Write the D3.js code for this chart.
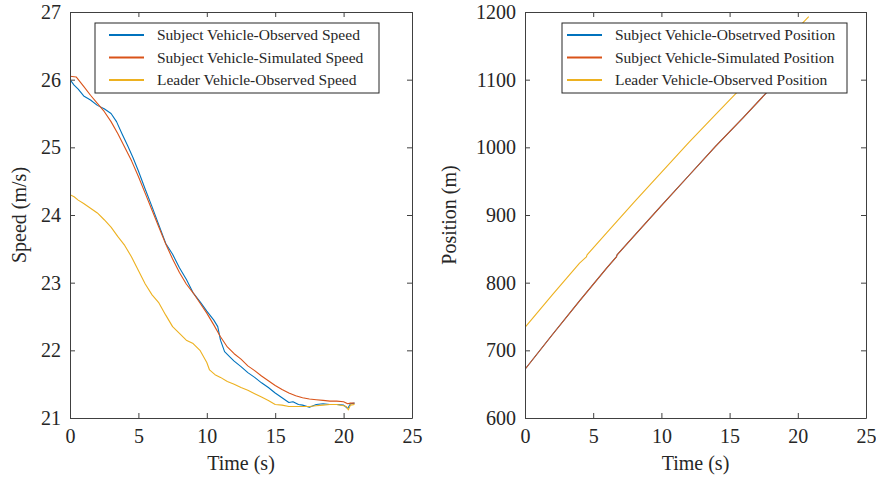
<!DOCTYPE html>
<html>
<head>
<meta charset="utf-8">
<script src="https://cdn.jsdelivr.net/npm/d3@7"></script>
<style>
  body { margin: 0; background: #fff; }
  svg { display: block; font-family: "Liberation Serif", "DejaVu Serif", serif; }
  .axis path, .axis line { stroke: #404040; }
  .axis text { fill: #262626; font-size: 20px; font-family: "Liberation Serif", "DejaVu Serif", serif; }
</style>
</head>
<body>
<div id="chart"></div>
<script>
// speed panel
const tSubjObsSpeed = [0, 0.3, 0.6, 1.0, 1.5, 2.0, 2.5, 3.0, 3.4, 3.8, 4.2, 4.6, 5.0, 5.5, 6.0, 6.5, 7.0, 7.5, 8.0, 8.5, 9.0, 9.5, 10.0, 10.5, 10.8, 11.0, 11.3, 11.7, 12.0, 12.5, 13.0, 13.5, 14.0, 14.5, 15.0, 15.5, 16.0, 16.3, 16.7, 17.0, 17.5, 18.0, 18.5, 19.0, 19.5, 20.0, 20.3, 20.5, 20.8];
const vSubjObsSpeed = [26.0, 25.92, 25.86, 25.76, 25.7, 25.62, 25.57, 25.5, 25.38, 25.2, 25.03, 24.85, 24.65, 24.38, 24.12, 23.85, 23.58, 23.42, 23.22, 23.05, 22.85, 22.72, 22.58, 22.45, 22.35, 22.15, 21.98, 21.9, 21.84, 21.76, 21.67, 21.6, 21.52, 21.45, 21.37, 21.3, 21.23, 21.24, 21.2, 21.19, 21.16, 21.2, 21.21, 21.2, 21.2, 21.19, 21.14, 21.21, 21.22];

const tSubjSimSpeed = [0, 0.45, 1.0, 1.5, 2.0, 2.5, 3.0, 3.5, 4.0, 4.5, 5.0, 5.5, 6.0, 6.5, 7.0, 7.5, 8.0, 8.5, 9.0, 9.5, 10.0, 10.5, 11.0, 11.5, 12.0, 12.5, 13.0, 13.5, 14.0, 14.5, 15.0, 15.5, 16.0, 16.5, 17.0, 17.5, 18.0, 18.5, 19.0, 19.5, 20.0, 20.3, 20.5, 20.8];
const vSubjSimSpeed = [26.05, 26.04, 25.9, 25.77, 25.65, 25.53, 25.38, 25.2, 25.0, 24.8, 24.57, 24.32, 24.07, 23.82, 23.57, 23.35, 23.15, 22.98, 22.85, 22.7, 22.55, 22.38, 22.2, 22.05, 21.95, 21.87, 21.77, 21.7, 21.62, 21.55, 21.48, 21.42, 21.37, 21.33, 21.3, 21.28, 21.27, 21.26, 21.25, 21.25, 21.24, 21.21, 21.22, 21.22];

const tLeadObsSpeed = [0, 0.3, 0.6, 1.0, 1.5, 2.0, 2.5, 3.0, 3.5, 4.0, 4.5, 5.0, 5.5, 6.0, 6.5, 7.0, 7.5, 8.0, 8.5, 9.0, 9.5, 10.0, 10.2, 10.6, 11.0, 11.5, 12.0, 12.5, 13.0, 13.5, 14.0, 14.5, 15.0, 15.5, 16.0, 16.5, 17.0, 17.5, 18.0, 18.5, 19.0, 19.5, 20.0, 20.2, 20.35, 20.5, 20.8];
const vLeadObsSpeed = [24.3, 24.27, 24.22, 24.17, 24.1, 24.03, 23.93, 23.82, 23.68, 23.55, 23.38, 23.18, 22.98, 22.82, 22.7, 22.52, 22.35, 22.25, 22.15, 22.1, 22.0, 21.82, 21.71, 21.64, 21.6, 21.54, 21.5, 21.45, 21.41, 21.36, 21.31, 21.26, 21.2, 21.19, 21.17, 21.17, 21.17, 21.17, 21.18, 21.19, 21.2, 21.2, 21.18, 21.17, 21.12, 21.19, 21.2];

// position panel
const tSubjPos = [0, 2, 4, 6, 6.7, 6.75, 8, 10, 12, 14, 16, 18, 20, 20.8];
const pSubjObsPos = [672, 723, 773, 822, 838, 841, 869, 914, 958, 1002, 1044, 1087, 1129, 1146];
const pSubjSimPos = [672, 723, 773, 822, 838, 841, 869, 914, 958, 1002, 1044, 1087, 1129, 1146];
const tLeadPos = [0, 2, 4, 4.5, 4.55, 6, 8, 10, 12, 14, 16, 18, 20, 20.8];
const pLeadObsPos = [734, 782, 829, 838, 841, 874, 919, 963, 1007, 1049, 1091, 1134, 1176, 1193];

const xTicks = [0, 5, 10, 15, 20, 25];
const speedTicks = [21, 22, 23, 24, 25, 26, 27];
const posTicks = [600, 700, 800, 900, 1000, 1100, 1200];

const colors = ['#0072BD', '#D95319', '#EDB120'];
const speedNames = ['Subject Vehicle-Observed Speed', 'Subject Vehicle-Simulated Speed', 'Leader Vehicle-Observed Speed'];
const posNames = ['Subject Vehicle-Obsetrved Position', 'Subject Vehicle-Simulated Position', 'Leader Vehicle-Observed Position'];

const W = 876, H = 479;
const svg = d3.select('#chart').append('svg').attr('width', W).attr('height', H);
const fmt = d3.format('d');

function zip(ts, vs) { return ts.map((t, i) => ({ t: t, v: vs[i] })); }

function panel(opts) {
    const { left, right, top, bottom, yDomain, yTicks, series, names, yLabel, labelX, legend, id } = opts;
    const x = d3.scaleLinear().domain([0, 25]).range([left, right]);
    const y = d3.scaleLinear().domain(yDomain).range([bottom, top]);
    const tick = 5;

    svg.append('defs').append('clipPath').attr('id', id)
        .append('rect').attr('x', left).attr('y', top)
        .attr('width', right - left).attr('height', bottom - top);

    const line = d3.line().x(d => x(d.t)).y(d => y(d.v));
    const g = svg.append('g').attr('clip-path', `url(#${id})`);
    series.forEach((s, i) => {
        g.append('path')
            .datum(s)
            .attr('fill', 'none')
            .attr('stroke', colors[i])
            .attr('stroke-width', 1.1)
            .attr('stroke-linejoin', 'round')
            .attr('d', line);
    });

    // box with inward ticks on all sides
    svg.append('g').attr('class', 'axis')
        .attr('transform', `translate(0,${bottom})`)
        .call(d3.axisBottom(x).tickValues(xTicks).tickFormat(fmt).tickSizeInner(-tick).tickSizeOuter(0).tickPadding(11))
        .call(a => a.selectAll('text').attr('dy', '0.71em'));
    svg.append('g').attr('class', 'axis')
        .attr('transform', `translate(0,${top})`)
        .call(d3.axisTop(x).tickValues(xTicks).tickSizeInner(-tick).tickSizeOuter(0).tickFormat(''));
    svg.append('g').attr('class', 'axis')
        .attr('transform', `translate(${left},0)`)
        .call(d3.axisLeft(y).tickValues(yTicks).tickFormat(fmt).tickSizeInner(-tick).tickSizeOuter(0).tickPadding(9));
    svg.append('g').attr('class', 'axis')
        .attr('transform', `translate(${right},0)`)
        .call(d3.axisRight(y).tickValues(yTicks).tickSizeInner(-tick).tickSizeOuter(0).tickFormat(''));

    svg.append('text')
        .attr('x', (left + right) / 2).attr('y', 470)
        .attr('text-anchor', 'middle')
        .attr('font-size', 20).attr('fill', '#262626')
        .text('Time (s)');
    svg.append('text')
        .attr('transform', `translate(${labelX},${(top + bottom) / 2}) rotate(-90)`)
        .attr('text-anchor', 'middle')
        .attr('dy', '0.35em')
        .attr('font-size', 20).attr('fill', '#262626')
        .text(yLabel);

    // legend
    const lg = svg.append('g').attr('transform', `translate(${legend.x},${legend.y})`);
    lg.append('rect')
        .attr('width', legend.w).attr('height', 70)
        .attr('fill', '#fff').attr('stroke', '#262626').attr('stroke-width', 1);
    names.forEach((n, i) => {
        const ry = 12 + i * 22.5;
        lg.append('line')
            .attr('x1', legend.lx).attr('x2', legend.lx + 35).attr('y1', ry).attr('y2', ry)
            .attr('stroke', colors[i]).attr('stroke-width', 2);
        lg.append('text')
            .attr('x', legend.tx).attr('y', ry).attr('dy', '0.35em')
            .attr('font-size', 15.5).attr('fill', '#262626')
            .text(n);
    });
}

panel({
    id: 'clipSpeed', left: 70, right: 412, top: 12, bottom: 418,
    yDomain: [21, 27], yTicks: speedTicks, yLabel: 'Speed (m/s)', labelX: 19,
    series: [zip(tSubjObsSpeed, vSubjObsSpeed), zip(tSubjSimSpeed, vSubjSimSpeed), zip(tLeadObsSpeed, vLeadObsSpeed)],
    names: speedNames,
    legend: { x: 95, y: 23, w: 284, lx: 14, tx: 62 }
});

panel({
    id: 'clipPos', left: 525, right: 866, top: 12, bottom: 418,
    yDomain: [600, 1200], yTicks: posTicks, yLabel: 'Position (m)', labelX: 449,
    series: [zip(tSubjPos, pSubjObsPos), zip(tSubjPos, pSubjSimPos), zip(tLeadPos, pLeadObsPos)],
    names: posNames,
    legend: { x: 562, y: 23, w: 285, lx: 5, tx: 53 }
});
</script>
</body>
</html>
